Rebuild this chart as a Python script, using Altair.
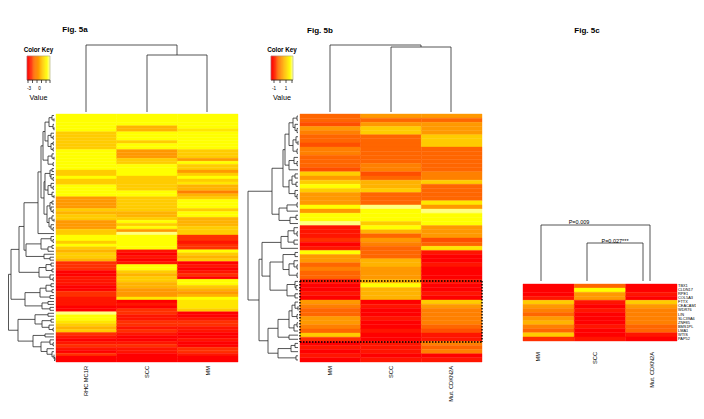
import altair as alt
import pandas as pd

# ---- colour levels: 0 red ... 9 yellow, 10 pale yellow
A_RHC = [9,9,9,9,9,9,7,7,7,7,7,7,9,9,9,9,9,9,9,7,7,9,7,7,9,9,9,9,5,5,5,5,7,6,7,7,5,5,5,7,7,9,9,7,9,7,6,7,7,6,
         2,2,2,0,0,1,1,1,0,0,2,2,1,1,1,0,0,10,9,9,8,7,6,7,2,1,0,1,2,1,0,2,0,0]
A_SCC = [9,9,9,9,6,6,9,9,9,7,9,9,5,5,5,7,7,9,9,9,9,7,7,7,7,7,9,9,7,7,7,7,7,6,6,7,9,7,9,5,
         10,9,9,9,9,9,1,0,1,0,1,9,9,7,6,7,7,6,6,5,5,5,8,0,1,0,2,2,1,1,2,2,1,2,1,0,0,1,2,1,1,0,0,0]
A_MM = [9,9,9,9,9,8,9,9,9,9,9,9,7,7,7,5,9,7,7,5,7,9,7,8,6,6,4,6,7,9,9,9,7,9,9,6,6,6,7,7,7,
        2,2,1,2,2,9,7,6,7,0,1,0,1,2,0,9,9,7,6,5,6,9,8,8,8,7,0,0,1,2,2,1,1,0,0,1,0,0,2,2,1,0,0]
B_MM = [3,3,2.5,5,4,3,3,2.5,4,4,3,3,3,2.5,7,5,7,9,7,5,5,5,9,5,9,9,10,1,1,1,2,0,1,9,5,5,3,4,3,3,
        1,0,0,1,0,5,4,3,3,5,5,4,3,7,2,0,1,0,1,0]
B_SCC = [5,3,5,7,7,3,3,3,3,3,3,3,4,4,2.5,3,6,6,7,3,3,3,10,9,9,9,7,9,6,3,5,4,3,3,3,6,6,5,5,5,
         6,9,6,6,6,0,1,0,0,1,0,0,1,0,0,1,1,1,0,1]
B_MUT = [5,3,5,5,5,7,7,7,3,3,3,3,3,3,4,4,7,3,3,3,3,8,5,10,9,9,9,5,5,5,2.5,3,8,1,0,0,1,0,0,0,
         1,0,0,1,0,7,5,4,4,4,4,3,2.5,1,1,4,3,4,0,1]
C_MM = [0,0,0,1,7,5,4,3,5,6,4,3,7,2]
C_SCC = [3,9,5,5,1,0,1,0,0,0,1,0,0,1]
C_MUT = [0,0,1,0,7,5,4,4,4,4,3,3,1,0]
KEY_LEVELS = [0,0.5,1,1.5,2,2.5,3,3.5,4,4.5,5,5.5,6,6.5,7,7.5,8,8.5,9,9.5,10]
LEVEL_COLORS = ["#ff0000","#ff1500","#ff3000","#ff6600","#ff8000","#ff9900","#ffb300","#ffcc00","#ffe600","#ffff00","#ffff80"]
LEVELS = [0,1,2,3,4,5,6,7,8,9,10]

GENES = ["TBX1","CLDN17","RPE1","COL5A3","FTTX","CEACAM1","WDR76","LIN","SLC39A6","ZNF85","BMS1PL","LMA1","WTIS","PAP52"]
COLS_A = ["RHC MC1R","SCC","MM"]
COLS_B = ["MM","SCC","Mut. CDKN2A"]
COLS_C = ["MM","SCC","Mut. CDKN2A"]

# ---- row dendrograms: (height, child, child); integers are row numbers
r0_12 = (11,(7,(4,0,(2,1,2)),(3,3,(2,4,5))),(8,(5,6,(3,7,8)),(5,(3,9,10),(3,11,12))))
r13_17 = (8,(4,13,(2,14,15)),(3,16,17))
r18_28 = (11,(6,(4,18,19),(5,20,(3,21,22))),(8,(5,23,(3,24,25)),(4,26,(2,27,28))))
r29_39 = (9,(6,(4,29,30),(5,31,(3,32,33))),(7,(4,34,(2,35,36)),(5,37,(3,38,39))))
a11 = (18,(15,(13,r0_12,r13_17),(12,r18_28,r29_39)),40)
a12 = (30,(15,(5,41,(3,42,43)),(8,(4,44,45),46)),(12,47,(6,48,49)))
a2 = (17,(10,(5,50,51),(4,52,53)),(6,54,(3,55,56)))
ab = (31,(16,(10,(5,57,58),(4,59,60)),(6,61,62)),(14,(8,63,64),(6,65,66)))
low1 = (21,(8,67,68),(14,(5,69,70),(7,71,(3,72,73))))
low2 = (23,(11,74,75),(15,(6,76,(3,77,78)),(9,79,(4,80,(2,81,(1,82,83))))))
TREE_A = (47.5,(45,(37,(32,a11,a12),a2),ab),(38,low1,low2))

b0 = (15,(11,(7,(3,0,1),(5,2,(3,3,4))),(7,(4,5,(2,6,7)),(3,8,9))),(11,(6,10,(3,11,12)),13))
b1 = (11,(8,(5,14,15),(4,16,17)),(5,18,(3,19,20)))
b2 = (21,(13,(3,21,22),23),(10,(4,24,25),26))
b3 = (19,(12,(6,27,(3,28,29)),(6,30,31)),32)
b4 = (17,(5,33,34),(11,(6,35,(3,36,37)),(3,38,39)))
b5 = (13,(5,40,(4,41,42)),(5,43,44))
b6 = (11,(8,(5,45,(2,46,47)),(3,48,49)),(6,(3,50,51),52))
b7 = (22,(9,(5,55,56),57),(4,58,59))
TREE_B = (52,(28,(17,b0,b1),b2),(41,(38,b3,(30,b4,b5)),(32,(22,b6,(11,53,54)),b7)))

# ---- column dendrogram brackets
TOP_A = [(147,207,55,112,112),(86,177,45,112,55)]
TOP_B = [(391,451,47,112,112),(330,421,45,112,47)]
TOP_C = [(587,643,243,281,281),(541,650,225,281,281)]

# ---- layout of the panels (page pixels)
PANELS = [
    dict(cols=[A_RHC,A_SCC,A_MM], left=56, right=238, top=114, bottom=362, tree=TREE_A),
    dict(cols=[B_MM,B_SCC,B_MUT], left=300, right=482, top=114, bottom=362, tree=TREE_B),
    dict(cols=[C_MM,C_SCC,C_MUT], left=523, right=677, top=284, bottom=341, tree=None),
]

cells, segs = [], []
def walk(node, p, rh):
    if isinstance(node, int):
        return p["top"]+(node+0.5)*rh, p["left"]-2
    d,a,b = node
    x = p["left"]-d
    ya,xa = walk(a,p,rh); yb,xb = walk(b,p,rh)
    segs.extend([(x,ya,x,yb),(x,ya,xa,ya),(x,yb,xb,yb)])
    return (ya+yb)/2, x

for p in PANELS:
    n = len(p["cols"][0])
    assert all(len(c)==n for c in p["cols"]), [len(c) for c in p["cols"]]
    cw = (p["right"]-p["left"])/3
    rh = (p["bottom"]-p["top"])/n
    for c,col in enumerate(p["cols"]):
        for r,v in enumerate(col):
            cells.append(dict(x=p["left"]+c*cw,x2=p["left"]+(c+1)*cw,y=p["top"]+r*rh,y2=p["top"]+(r+1)*rh,v=v))
    if p["tree"]:
        walk(p["tree"],p,rh)

for xl,xr,t,bl,br in TOP_A+TOP_B+TOP_C:
    segs.extend([(xl,t,xr,t),(xl,t,xl,bl),(xr,t,xr,br)])

# colour keys
KEYS = [dict(l=27,r=50,ticks=[28,32.5,37,41.5,46,50]),dict(l=271,r=293,ticks=[274,280,286,292])]
key_segs = []
for k in KEYS:
    w = (k["r"]-k["l"])/len(KEY_LEVELS)
    for i,v in enumerate(KEY_LEVELS):
        cells.append(dict(x=k["l"]+i*w,x2=k["l"]+(i+1)*w,y=56,y2=80,v=v))
    for t in k["ticks"]:
        segs.append((t,80,t,83))
    segs.append((k["l"],80,k["r"],80))
    key_segs.extend([(k["l"],56,k["r"],56),(k["l"],56,k["l"],80),(k["r"],56,k["r"],80)])

# dotted box in Fig. 5b
BOX = dict(l=300,r=482,t=281,b=342)
box = [(BOX["l"],BOX["t"],BOX["r"],BOX["t"]),(BOX["l"],BOX["b"],BOX["r"],BOX["b"]),
       (BOX["l"],BOX["t"],BOX["l"],BOX["b"]),(BOX["r"],BOX["t"],BOX["r"],BOX["b"])]

bold = [("Fig. 5a",75,30,8),("Fig. 5b",320,31,8),("Fig. 5c",587,31,8),
        ("Color Key",38.5,50,6.3),("Color Key",282,50,6.3)]
plain = [("-3",29,89,4.6),("0",39.5,89,4.6),("Value",38.5,97.5,7.2),
         ("-1",274,89,4.6),("1",286,89,4.6),("Value",282,97.5,7.2),
         ("P=0.009",579,222,5.5),("P=0.027***",615,241,5.5)]
c_p = PANELS[2]; c_rh = (c_p["bottom"]-c_p["top"])/14
genes = [(g,678,c_p["top"]+(i+0.5)*c_rh,3.9) for i,g in enumerate(GENES)]
rot = [(t,x,366,5.7) for t,x in zip(COLS_A,[86,147,208])]
rot += [(t,x,366,5.7) for t,x in zip(COLS_B,[330,391,451])]
rot += [(t,x,352,5.7) for t,x in zip(COLS_C,[538,595,652])]

xs = alt.Scale(domain=[8,696],nice=False,zero=False)
ys = alt.Scale(domain=[408,8],nice=False,zero=False)
X = alt.X("x:Q",scale=xs,axis=None)
Y = alt.Y("y:Q",scale=ys,axis=None)
heat = alt.Scale(domain=LEVELS,range=LEVEL_COLORS)

def seg_df(rows):
    return pd.DataFrame(rows,columns=["x","y","x2","y2"])
def txt_df(rows):
    return pd.DataFrame(rows,columns=["t","x","y","s"])
def seg_layer(rows,**kw):
    return alt.Chart(seg_df(rows)).mark_rule(**kw).encode(x=X,y=Y,x2="x2:Q",y2="y2:Q")
def txt_layer(rows,**kw):
    return alt.Chart(txt_df(rows)).mark_text(font="Liberation Sans",color="#000000",**kw).encode(
        x=X,y=Y,text="t:N",size=alt.Size("s:Q",scale=None))

layers = [
    alt.Chart(pd.DataFrame(cells)).mark_rect(strokeWidth=0.4).encode(
        x=X,x2="x2:Q",y=Y,y2="y2:Q",
        color=alt.Color("v:Q",scale=heat,legend=None),
        stroke=alt.Stroke("v:Q",scale=heat,legend=None)),
    seg_layer(segs,color="#2a2a2a",strokeWidth=0.8),
    seg_layer(key_segs,color="#999999",strokeWidth=0.5),
    seg_layer(box,color="#000000",strokeWidth=1.4,strokeDash=[1.5,1.5]),
    txt_layer(bold,fontWeight="bold"),
    txt_layer(plain),
    txt_layer(genes,align="left"),
    txt_layer(rot,angle=270,align="right",baseline="middle"),
]
chart = alt.layer(*layers).properties(width=688,height=400,padding=0,
    autosize=alt.AutoSizeParams(type="none")).configure_view(stroke=None)
chart.save("out.html",embed_options={"renderer":"svg","actions":False})
